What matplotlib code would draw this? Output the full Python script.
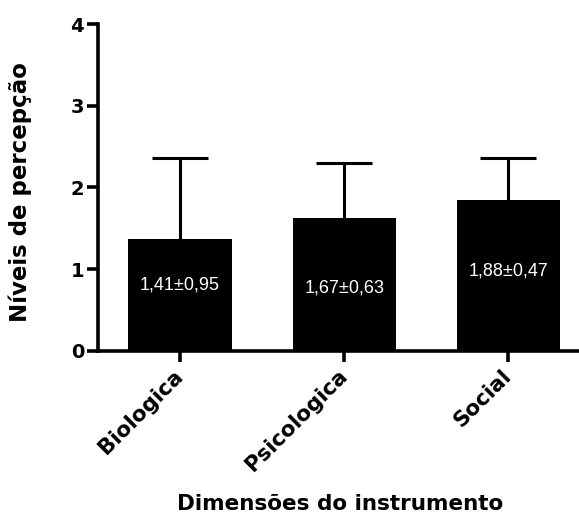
import numpy as np
import matplotlib.pyplot as plt

# --- Dati ---
categorie = ['Biologica', 'Psicologica', 'Social']
medie = [1.37, 1.63, 1.85]          # altezza delle barre come disegnate
errori = [0.99, 0.67, 0.51]         # solo verso l'alto
etichette = ['1,41±0,95', '1,67±0,63', '1,88±0,47']
y_etichette = [0.80, 0.77, 0.97]    # posizione verticale del testo nelle barre

# --- Figura ---
fig = plt.figure(figsize=(5.79, 5.21), dpi=100)
ax = fig.add_axes([98 / 579, 170.3 / 521, 481 / 579, 326.7 / 521])

x = np.arange(len(categorie))
ax.bar(x, medie, width=0.63, color='black', zorder=2)
_, caps, _ = ax.errorbar(x, medie, yerr=[np.zeros(len(errori)), errori],
                         fmt='none', ecolor='black', elinewidth=2.2,
                         capsize=20, capthick=2.2, zorder=1)
# nasconde il cappuccio inferiore (sulla cima della barra)
for c in caps:
    if np.allclose(c.get_ydata(), medie):
        c.set_visible(False)

for xi, testo, yt in zip(x, etichette, y_etichette):
    ax.text(xi, yt, testo, color='white', ha='center', va='center',
            family='Liberation Sans', fontsize=13, zorder=3)

ax.set_xlim(-0.5, 2.43)
ax.set_ylim(0, 4)
ax.set_yticks([0, 1, 2, 3, 4])
ax.set_xticks(x)
ax.set_xticklabels(categorie, rotation=45, ha='right', va='center',
                   rotation_mode='anchor')

for lab in ax.get_xticklabels():
    lab.set_family('DejaVu Sans')
    lab.set_fontweight('bold')
    lab.set_fontsize(15.5)
for lab in ax.get_yticklabels():
    lab.set_family('DejaVu Sans')
    lab.set_fontweight('bold')
    lab.set_fontsize(14)

ax.spines['top'].set_visible(False)
ax.spines['right'].set_visible(False)
ax.spines['left'].set_linewidth(2.6)
ax.spines['bottom'].set_linewidth(2.6)
ax.tick_params(axis='both', width=2.6, length=8, pad=2)
ax.tick_params(axis='x', pad=8)

ax.set_ylabel('Níveis de percepção', family='DejaVu Sans', fontweight='bold',
              fontsize=16.5)
ax.set_xlabel('Dimensões do instrumento', family='DejaVu Sans',
              fontweight='bold', fontsize=15.5)
ax.yaxis.set_label_coords(-0.137, 0.486)
ax.xaxis.set_label_coords(0.503, -0.44)

fig.savefig('out.png', dpi=100)
